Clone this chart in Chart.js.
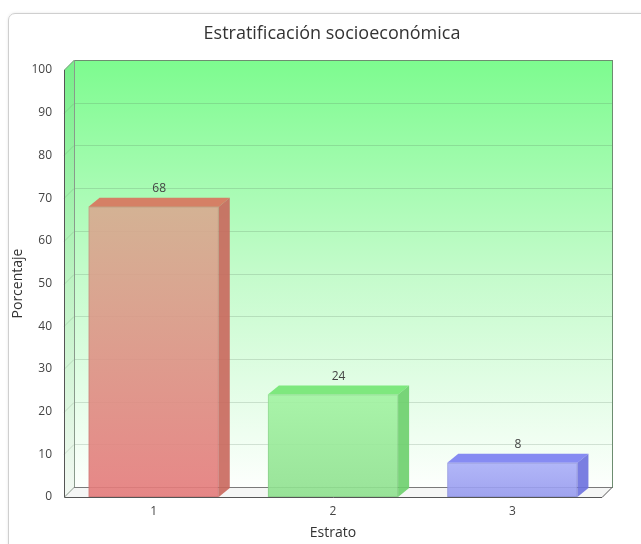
<!DOCTYPE html>
<html>
<head>
<meta charset="utf-8">
<script src="https://cdn.jsdelivr.net/npm/chart.js@4.4.1/dist/chart.umd.min.js"></script>
<style>
html,body{margin:0;padding:0;background:#fff;overflow:hidden}
#card{position:absolute;left:8px;top:13px;width:660px;height:560px;border:1px solid #cfcfcf;border-radius:7px;box-shadow:0 0 3px rgba(0,0,0,.10)}
#wrap{position:absolute;left:0;top:0;width:641px;height:544px}
</style>
</head>
<body>
<div id="card"></div>
<div id="wrap"><canvas id="chart"></canvas></div>
<script>
// data
const categories = ['1', '2', '3'];
const percentages = [68, 24, 8];
const chartTitle = 'Estratificación socioeconómica';
const xTitle = 'Estrato';
const yTitle = 'Porcentaje';

// bar face colours (front top, front bottom, top face, side face)
const frontTop = ['#d8aa90', '#a2f3a2', '#a9aef8'];
const frontBottom = ['#e47a7a', '#8ee08e', '#969aee'];
const topFace = ['#d9725c', '#72e672', '#7a7ef2'];
const sideFace = ['#c9675c', '#6ccf6c', '#6c70de'];

const WALL = {dx: 10, dy: -10};
const BAR = {dx: 11, dy: -9};

Chart.defaults.font.family = "'Open Sans', sans-serif";

function poly(ctx, pts){
  ctx.beginPath();
  ctx.moveTo(pts[0][0], pts[0][1]);
  for(let i = 1; i < pts.length; i++) ctx.lineTo(pts[i][0], pts[i][1]);
  ctx.closePath();
}

const threeD = {
  id: 'threeD',
  beforeDatasetsDraw(chart){
    const {ctx, chartArea: a, scales: {y}} = chart;
    const L = a.left, R = a.right, T = a.top, B = a.bottom;
    const dx = WALL.dx, dy = WALL.dy;
    ctx.save();

    // back wall
    const g = ctx.createLinearGradient(0, T + dy, 0, B + dy);
    g.addColorStop(0, '#7dfb8f');
    g.addColorStop(0.5, '#c4fbcb');
    g.addColorStop(1, '#fdfffd');
    ctx.fillStyle = g;
    ctx.fillRect(L + dx, T + dy, R - L, B - T);

    // left wall
    const g2 = ctx.createLinearGradient(0, T, 0, B);
    g2.addColorStop(0, '#78f08a');
    g2.addColorStop(0.5, '#bdf3c3');
    g2.addColorStop(1, '#f3f8f3');
    ctx.fillStyle = g2;
    poly(ctx, [[L, T], [L + dx, T + dy], [L + dx, B + dy], [L, B]]);
    ctx.fill();

    // floor
    ctx.fillStyle = '#f5f6f5';
    poly(ctx, [[L, B], [L + dx, B + dy], [R + dx, B + dy], [R, B]]);
    ctx.fill();

    // grid lines on back and left wall
    ctx.lineWidth = 1;
    ctx.strokeStyle = 'rgba(80,110,85,0.2)';
    y.ticks.forEach(t => {
      const py = Math.round(y.getPixelForValue(t.value)) + 0.5;
      if(t.value === 0 || t.value === 100) return;
      ctx.beginPath();
      ctx.moveTo(L, py);
      ctx.lineTo(L + dx, py + dy);
      ctx.lineTo(R + dx, py + dy);
      ctx.stroke();
    });

    // back wall border
    ctx.strokeStyle = '#6d8c70';
    ctx.strokeRect(L + dx + 0.5, T + dy + 0.5, R - L, B - T);

    // left wall edges
    ctx.strokeStyle = '#8a9a8c';
    poly(ctx, [[L + 0.5, T], [L + dx + 0.5, T + dy], [L + dx + 0.5, B + dy], [L + 0.5, B]]);
    ctx.stroke();

    // floor back edge
    ctx.strokeStyle = '#7a7a7a';
    ctx.beginPath();
    ctx.moveTo(L + dx, B + dy + 0.5);
    ctx.lineTo(R + dx, B + dy + 0.5);
    ctx.stroke();
    ctx.restore();
  },
  afterDatasetsDraw(chart){
    const {ctx, chartArea: a} = chart;
    const meta = chart.getDatasetMeta(0);
    ctx.save();
    meta.data.forEach((el, i) => {
      const {x, y, base, width} = el.getProps(['x', 'y', 'base', 'width'], true);
      const l = x - width / 2, r = x + width / 2;
      const dx = BAR.dx, dy = BAR.dy;
      ctx.globalAlpha = 0.9;
      const g = ctx.createLinearGradient(0, y, 0, base);
      g.addColorStop(0, frontTop[i]);
      g.addColorStop(1, frontBottom[i]);
      ctx.fillStyle = g;
      ctx.fillRect(l, y, width, base - y);
      ctx.fillStyle = topFace[i];
      poly(ctx, [[l, y], [l + dx, y + dy], [r + dx, y + dy], [r, y]]);
      ctx.fill();
      ctx.fillStyle = sideFace[i];
      poly(ctx, [[r, y], [r + dx, y + dy], [r + dx, base + dy], [r, base]]);
      ctx.fill();
      ctx.globalAlpha = 1;
      ctx.strokeStyle = 'rgba(0,0,0,0.08)';
      ctx.lineWidth = 1;
      ctx.strokeRect(l + 0.5, y + 0.5, width - 1, base - y - 1);

      // value label
      ctx.fillStyle = '#444';
      ctx.font = "12px 'Open Sans', sans-serif";
      ctx.textAlign = 'center';
      ctx.textBaseline = 'alphabetic';
      ctx.fillText(String(percentages[i]), x + dx / 2, y + dy - 6);
    });

    // front edges
    ctx.strokeStyle = '#555';
    ctx.lineWidth = 1;
    ctx.beginPath();
    ctx.moveTo(a.left + 0.5, a.top);
    ctx.lineTo(a.left + 0.5, a.bottom + 0.5);
    ctx.lineTo(a.right, a.bottom + 0.5);
    ctx.lineTo(a.right + WALL.dx, a.bottom + WALL.dy + 0.5);
    ctx.stroke();

    // title
    ctx.fillStyle = '#333';
    ctx.font = "18px 'Open Sans', sans-serif";
    ctx.textAlign = 'center';
    ctx.textBaseline = 'middle';
    ctx.fillText(chartTitle, 332, 34);
    ctx.restore();
  }
};

new Chart(document.getElementById('chart'), {
  type: 'bar',
  data: {
    labels: categories,
    datasets: [{
      label: yTitle,
      data: percentages,
      backgroundColor: 'rgba(0,0,0,0)',
      borderWidth: 0,
      barPercentage: 0.726,
      categoryPercentage: 1
    }]
  },
  options: {
    responsive: true,
    maintainAspectRatio: false,
    animation: false,
    layout: {padding: {top: 70, right: 39, left: 0, bottom: 0}},
    plugins: {
      legend: {display: false},
      tooltip: {enabled: false},
      title: {display: false}
    },
    scales: {
      x: {
        grid: {display: false, drawTicks: false},
        border: {display: false},
        ticks: {color: '#444', font: {size: 12}, padding: 7},
        title: {display: true, text: xTitle, color: '#333', font: {size: 14}, padding: {top: 2, bottom: 3}},
        afterFit(s){ s.height = 47; }
      },
      y: {
        min: 0,
        max: 100,
        grid: {display: false, drawTicks: false},
        border: {display: false},
        ticks: {stepSize: 10, color: '#444', font: {size: 12}, padding: 12},
        title: {display: true, text: yTitle, color: '#333', font: {size: 14}, padding: {top: 10, bottom: 0}},
        afterFit(s){ s.width = 64; }
      }
    }
  },
  plugins: [threeD]
});
</script>
</body>
</html>
